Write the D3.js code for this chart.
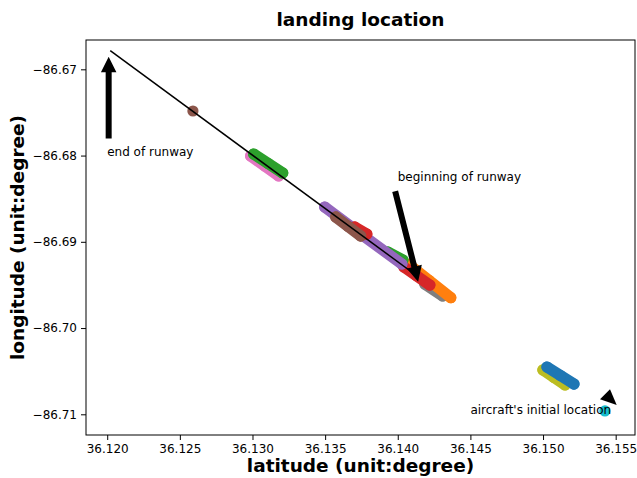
<!DOCTYPE html>
<html>
<head>
<meta charset="utf-8">
<script src="https://cdn.jsdelivr.net/npm/d3@7"></script>
<style>
  html, body { margin: 0; padding: 0; background: #fff; }
  svg { display: block; font-family: "DejaVu Sans", sans-serif; }
</style>
</head>
<body>
<svg id="chart" width="637" height="478"></svg>
<script>
// ---------------- data ----------------
const xTicks = [36.120, 36.125, 36.130, 36.135, 36.140, 36.145, 36.150, 36.155];
const yTicks = [-86.67, -86.68, -86.69, -86.70, -86.71];
const xDomain = [36.11854, 36.15633];
const yDomain = [-86.7124, -86.6666];

// trajectory samples [latitude, longitude], drawing order bottom -> top
const seriesColors = ["#bcbd22", "#1f77b4", "#17becf", "#e377c2", "#2ca02c", "#8c564b",
                      "#7f7f7f", "#ff7f0e", "#d62728", "#2ca02c", "#9467bd", "#d62728", "#8c564b"];
const oliveTrack   = [[36.14999, -86.70486], [36.15075, -86.70573], [36.15151, -86.70660]];
const blueTrack    = [[36.15027, -86.70452], [36.15120, -86.70550], [36.15213, -86.70649]];
const cyanTrack    = [[36.15426, -86.70961]];
const pinkTrack    = [[36.12987, -86.68005], [36.13084, -86.68121], [36.13180, -86.68237]];
const greenTrack1  = [[36.13008, -86.67982], [36.13108, -86.68092], [36.13208, -86.68202]];
const brownTrack1  = [[36.12590, -86.67483]];
const grayTrack    = [[36.14186, -86.69489], [36.14310, -86.69628]];
const orangeTrack  = [[36.14075, -86.69262], [36.14215, -86.69448], [36.14365, -86.69648]];
const redTrack1    = [[36.14042, -86.69292], [36.14130, -86.69395], [36.14221, -86.69501]];
const greenTrack2  = [[36.13931, -86.69118], [36.14035, -86.69211]];
const purpleTrack  = [[36.13497, -86.68597], [36.13760, -86.68927], [36.14028, -86.69257]];
const redTrack2    = [[36.13704, -86.68828], [36.13787, -86.68910]];
const brownTrack2  = [[36.13573, -86.68712], [36.13659, -86.68822], [36.13745, -86.68933]];
const tracks = [oliveTrack, blueTrack, cyanTrack, pinkTrack, greenTrack1, brownTrack1,
                grayTrack, orangeTrack, redTrack1, greenTrack2, purpleTrack, redTrack2, brownTrack2];

// runway line
const runwayLat = [36.12021, 36.14124];
const runwayLon = [-86.66784, -86.69385];

// annotations
const annoTexts = ["end of runway", "beginning of runway", "aircraft's initial location"];
const annoTextPos = [[36.12000, -86.68000], [36.14000, -86.68300], [36.14500, -86.71000]];
const arrowTails = [[36.12010, -86.67802], [36.13982, -86.68413]];
const arrowTips  = [[36.12010, -86.66854], [36.14140, -86.69463]];
const headTriangle = [[36.15392, -86.70826], [36.15461, -86.70710], [36.15507, -86.70892]];

// ---------------- layout ----------------
const W = 637, H = 478;
const plot = { left: 86, top: 40, right: 635, bottom: 435 };
const svg = d3.select("#chart");

const x = d3.scaleLinear().domain(xDomain).range([plot.left, plot.right]);
const y = d3.scaleLinear().domain(yDomain).range([plot.bottom, plot.top]);

// tracks
const R = 5.6;
const lineGen = d3.line().x(d => x(d[0])).y(d => y(d[1]));
const gTracks = svg.append("g");
tracks.forEach((pts, i) => {
  const c = seriesColors[i];
  if (pts.length > 1) {
    gTracks.append("path").attr("d", lineGen(pts))
      .attr("fill", "none").attr("stroke", c).attr("stroke-width", 2 * R)
      .attr("stroke-linecap", "round").attr("stroke-linejoin", "round");
  }
  gTracks.selectAll(null).data(pts).enter().append("circle")
    .attr("cx", d => x(d[0])).attr("cy", d => y(d[1])).attr("r", R).attr("fill", c);
});

// runway line
svg.append("line")
  .attr("x1", x(runwayLat[0])).attr("y1", y(runwayLon[0]))
  .attr("x2", x(runwayLat[1])).attr("y2", y(runwayLon[1]))
  .attr("stroke", "#000").attr("stroke-width", 1.5);

// axes
const xAxis = d3.axisBottom(x).tickValues(xTicks).tickSize(5).tickPadding(4)
  .tickFormat(d3.format(".3f"));
const yAxis = d3.axisLeft(y).tickValues(yTicks).tickSize(5).tickPadding(4)
  .tickFormat(d => d3.format(".2f")(d).replace("-", "\u2212"));

const gx = svg.append("g").attr("transform", `translate(0,${plot.bottom})`).call(xAxis);
const gy = svg.append("g").attr("transform", `translate(${plot.left},0)`).call(yAxis);
[gx, gy].forEach(g => {
  g.select(".domain").remove();
  g.selectAll("text").attr("font-size", 12).attr("fill", "#000")
    .attr("font-family", "DejaVu Sans");
  g.selectAll("line").attr("stroke", "#000").attr("stroke-width", 1);
});

// frame
svg.append("rect")
  .attr("x", plot.left).attr("y", plot.top)
  .attr("width", plot.right - plot.left).attr("height", plot.bottom - plot.top)
  .attr("fill", "none").attr("stroke", "#000").attr("stroke-width", 1);

// annotations: text
svg.selectAll(".anno").data(annoTexts).enter().append("text")
  .attr("class", "anno")
  .attr("x", (d, i) => x(annoTextPos[i][0]))
  .attr("y", (d, i) => y(annoTextPos[i][1]))
  .attr("font-size", 12).attr("fill", "#000")
  .text(d => d);

// annotations: arrows
function arrowPoly(t, h, tw, hw, hl) {
  const x0 = x(t[0]), y0 = y(t[1]), x1 = x(h[0]), y1 = y(h[1]);
  const dx = x1 - x0, dy = y1 - y0, L = Math.hypot(dx, dy);
  const ux = dx / L, uy = dy / L, nx = -uy, ny = ux;
  const bx = x1 - ux * hl, by = y1 - uy * hl;
  const p = [
    [x0 + nx * tw / 2, y0 + ny * tw / 2],
    [bx + nx * tw / 2, by + ny * tw / 2],
    [bx + nx * hw / 2, by + ny * hw / 2],
    [x1, y1],
    [bx - nx * hw / 2, by - ny * hw / 2],
    [bx - nx * tw / 2, by - ny * tw / 2],
    [x0 - nx * tw / 2, y0 - ny * tw / 2]
  ];
  return p.map(q => q.join(",")).join(" ");
}
arrowTails.forEach((t, i) => {
  svg.append("polygon").attr("points", arrowPoly(t, arrowTips[i], 6, 15.5, 15.5))
    .attr("fill", "#000");
});
svg.append("polygon")
  .attr("points", headTriangle.map(d => [x(d[0]), y(d[1])].join(",")).join(" "))
  .attr("fill", "#000");

// titles
svg.append("text").attr("x", (plot.left + plot.right) / 2).attr("y", 26)
  .attr("text-anchor", "middle").attr("font-size", 18.5).attr("font-weight", "bold")
  .text("landing location");
svg.append("text").attr("x", (plot.left + plot.right) / 2).attr("y", 472)
  .attr("text-anchor", "middle").attr("font-size", 18.5).attr("font-weight", "bold")
  .text("latitude (unit:degree)");
svg.append("text")
  .attr("transform", `translate(24,${(plot.top + plot.bottom) / 2}) rotate(-90)`)
  .attr("text-anchor", "middle").attr("font-size", 18.5).attr("font-weight", "bold")
  .text("longitude (unit:degree)");
</script>
</body>
</html>
